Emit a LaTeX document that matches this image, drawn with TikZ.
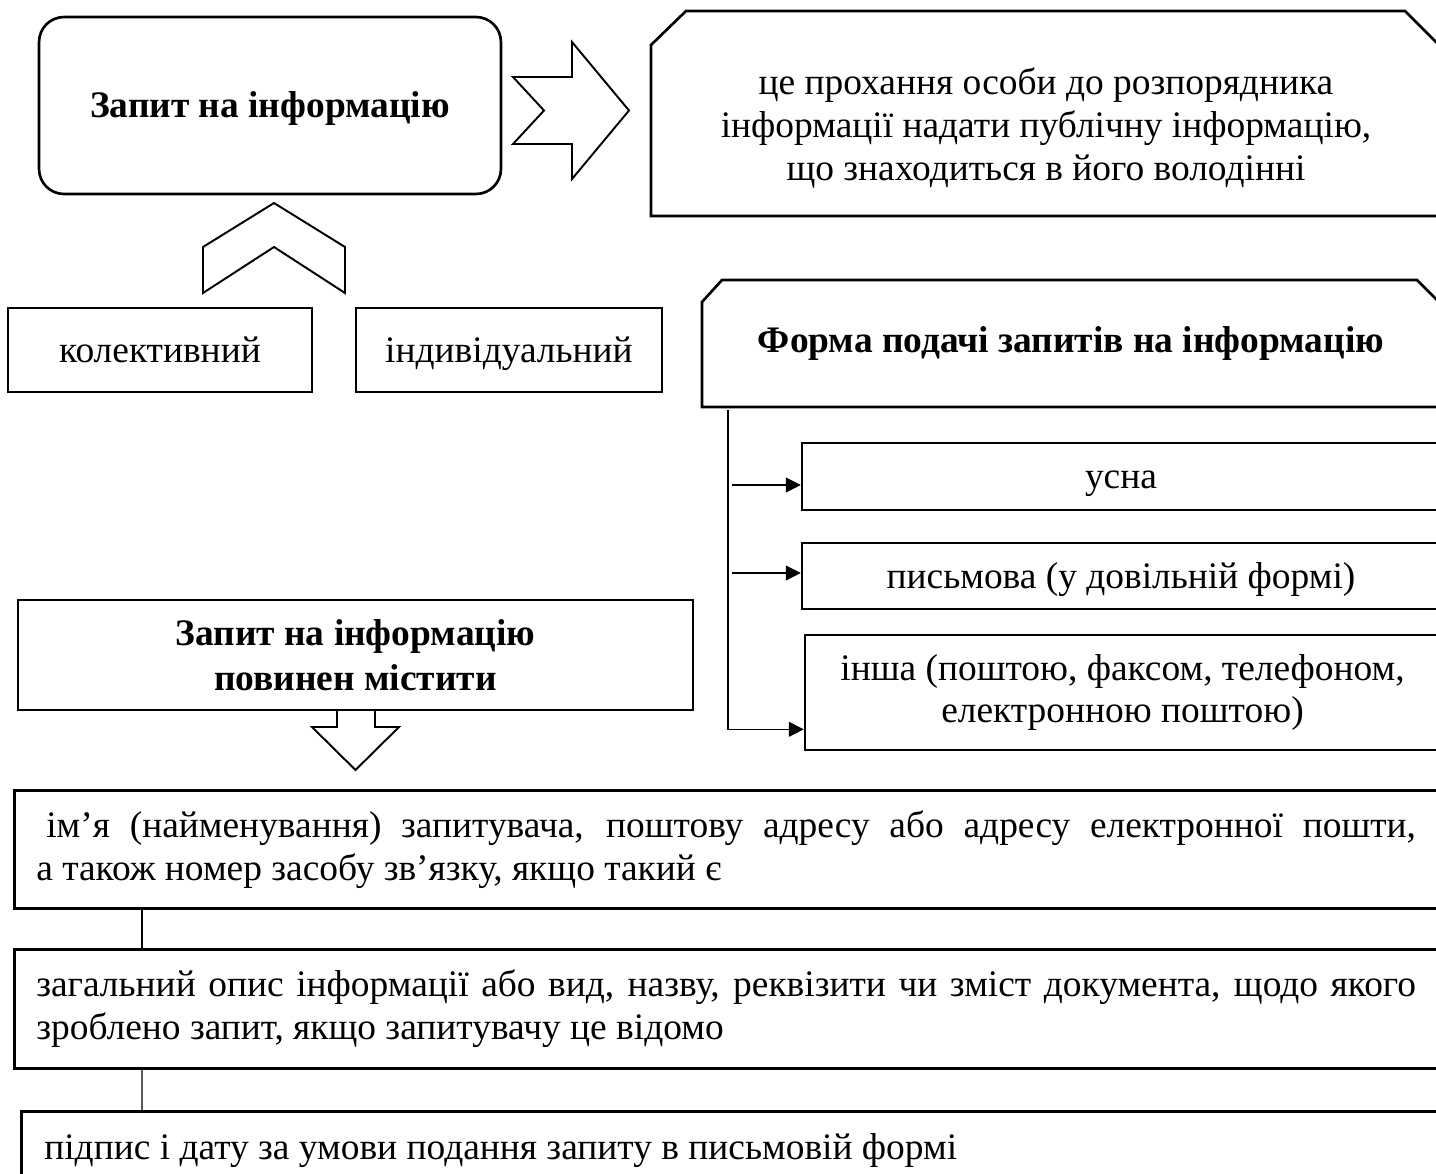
\documentclass[tikz,border=0pt]{standalone}
\usepackage{fontspec}
\setmainfont{Liberation Serif}
\usetikzlibrary{arrows.meta}

\tikzset{
  boxline/.style={line width=1.5pt},
  arrowline/.style={line width=1.1pt, line join=miter},
  plainbox/.style={draw, boxline, rectangle, inner sep=0pt, align=center},
  oneline/.style={text height=14.9pt, text depth=1pt},
  reqbox/.style={draw, boxline, rectangle, anchor=north west,
                 inner xsep=0.44cm, inner ysep=0pt, text width=28.2cm, align=left,
                 execute at begin node={\spaceskip=0pt\xspaceskip=0pt\relax}},
  boldtext/.style={font=\fontsize{21.3}{25.3}\selectfont\bfseries},
  link/.style={line width=0.6pt},
  feed/.style={line width=0.6pt, -{Triangle[length=0.3cm, width=0.3cm]}},
}

\begin{document}
\begin{tikzpicture}[x=0.02cm, y=-0.02cm, font=\fontsize{21.3}{24.3}\selectfont]
        \useasboundingbox (0,0) rectangle (1436,1173);
        \clip (0,0) rectangle (1436,1173);

        % top row
        \node[plainbox, boldtext, oneline, rounded corners=0.5cm,
              minimum width=9.24cm, minimum height=3.54cm]
              (request) at (270,105.5) {Запит на інформацію};
        \draw[arrowline] (513,77) -- (572,77) -- (572,42) -- (629,110.5)
              -- (572,179) -- (572,144) -- (513,144) -- (544,110.5) -- cycle;
        \draw[boxline] (651,216) -- (651,45) -- (686,11) -- (1405,11)
              -- (1440,46) -- (1440,216) -- cycle;
        \node[align=center] (defn) at (1046,128)
              {це прохання особи до розпорядника\\
               інформації надати публічну інформацію,\\
               що знаходиться в його володінні};

        % kinds of request
        \draw[arrowline] (274,203) -- (345,247) -- (345,293) -- (274,247)
              -- (203,293) -- (203,247) -- cycle;
        \node[plainbox, oneline, minimum width=6.08cm, minimum height=1.68cm]
              (collective) at (160,350) {колективний};
        \node[plainbox, oneline, minimum width=6.12cm, minimum height=1.68cm]
              (individual) at (509,350) {індивідуальний};

        % forms
        \draw[boxline] (702,407) -- (702,302) -- (722,280) -- (1417,280)
              -- (1440,303) -- (1440,407) -- cycle;
        \node[boldtext, oneline] (form) at (1071,340)
              {Форма подачі запитів на інформацію};
        \node[plainbox, oneline, minimum width=12.76cm, minimum height=1.34cm]
              (oral) at (1121,476.5) {усна};
        \node[plainbox, oneline, minimum width=12.76cm, minimum height=1.32cm]
              (written) at (1121,576) {письмова (у довільній формі)};
        \node[plainbox, minimum width=12.7cm, minimum height=2.3cm]
              (other) at (1122.5,692.5)
              {інша (поштою, факсом, телефоном,\\електронною поштою)};

        \coordinate (trunk) at (728,410);
        \coordinate (oralin) at ([yshift=-0.17cm]oral.west);
        \coordinate (writtenin) at ([yshift=0.06cm]written.west);
        \draw[feed] (trunk) |- ([yshift=0.44cm]other.south west);
        \draw[feed] (trunk |- oralin) ++(4,0) -- (oralin);
        \draw[feed] (trunk |- writtenin) ++(4,0) -- (writtenin);

        % contents of a request
        \node[plainbox, boldtext, minimum width=13.5cm, minimum height=2.2cm]
              (contents) at (355.5,655) {Запит на інформацію\\повинен містити};
        \draw[arrowline] (337,710) -- (337,727) -- (312,727) -- (355.5,770)
              -- (399,727) -- (375,727) -- (375,710);

        \node[reqbox, minimum height=2.36cm] (reqname) at (13,789)
              {\makebox[27.6cm][s]{\hspace{0.2cm}ім’я (найменування) запитувача, поштову адресу або адресу електронної пошти,}\\
               а також номер засобу зв’язку, якщо такий є};
        \node[reqbox, minimum height=2.38cm] (reqdesc) at (13,948)
              {\makebox[27.6cm][s]{загальний опис інформації або вид, назву, реквізити чи зміст документа, щодо якого}\\
               зроблено запит, якщо запитувачу це відомо};
        \node[reqbox, inner ysep=0.44cm, inner xsep=0.46cm] (reqsign) at (20,1110)
              {підпис і дату за умови подання запиту в письмовій формі};

        \draw[link] ([xshift=2.58cm]reqname.south west)
              -- ([xshift=2.58cm]reqdesc.north west);
        \draw[link] ([xshift=2.58cm]reqdesc.south west)
              -- ([xshift=2.44cm]reqsign.north west);
      \end{tikzpicture}
\end{document}
